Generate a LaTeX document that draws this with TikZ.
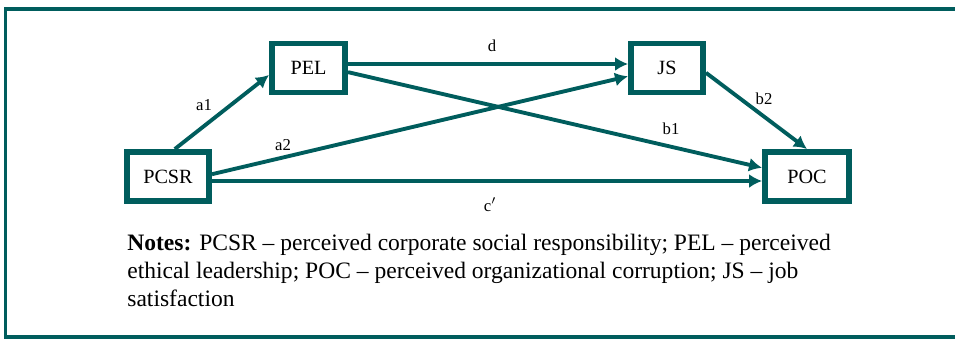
\documentclass[tikz,border=0pt]{standalone}
\usepackage{fontspec}
\setmainfont{Liberation Serif}
\usetikzlibrary{arrows.meta}
\definecolor{tealline}{RGB}{0,93,93}
\tikzset{
  var/.style={draw=tealline, line width=3.4pt, minimum height=0.98cm, inner sep=0pt, font=\fontsize{11.5}{13}\selectfont},
  link/.style={draw=tealline, line width=2.2pt, -{Latex[length=2.6mm,width=2.8mm]}},
  coef/.style={font=\fontsize{9.5}{11}\selectfont, inner sep=0pt}
}

\begin{document}
\begin{tikzpicture}[x=0.02cm, y=-0.02cm]
\useasboundingbox (0,0) rectangle (955,338);
\clip (0,0) rectangle (955,338);
\draw[tealline, line width=2.2pt] (5.5,8.7) rectangle (990,336.8);

\node[var, minimum width=1.64cm] (pcsr) at (168,176.5) {PCSR};
\node[var, minimum width=1.46cm] (pel) at (308.5,68) {PEL};
\node[var, minimum width=1.44cm] (js) at (667,68) {JS};
\node[var, minimum width=1.68cm] (poc) at (807,176.5) {POC};

\draw[link] (pcsr.76) -- (pel.190);
\draw[link] ([yshift=0.08cm]pel.east) -- ([yshift=0.08cm]js.west);
\draw[link] (pel.-6) -- (poc.169);
\draw[link] (pcsr.3) -- (js.192);
\draw[link] ([yshift=-0.09cm]pcsr.east) -- ([yshift=-0.09cm]poc.west);
\draw[link] (js.-7) -- (poc.north);

\node[coef] (la1) at (204,105) {a1};
\node[coef] (ld) at (492,46) {d};
\node[coef] (lb1) at (671,129) {b1};
\node[coef] (la2) at (283,145) {a2};
\node[coef] (lc) at (490,205) {c$'$};
\node[coef] (lb2) at (764,99) {b2};

\node[anchor=base west, inner sep=0pt, align=left, font=\fontsize{13.4}{15.9}\selectfont] (notes) at (127,306)
  {\textbf{Notes:} PCSR -- perceived corporate social responsibility; PEL -- perceived\\
   ethical leadership; POC -- perceived organizational corruption; JS -- job\\
   satisfaction};
\end{tikzpicture}
\end{document}
